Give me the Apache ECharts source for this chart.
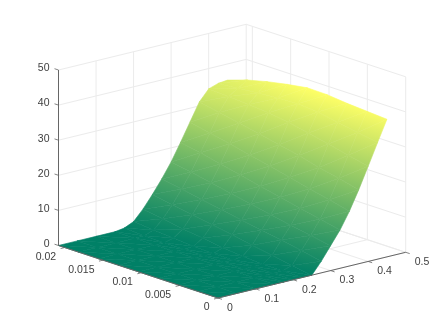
<!DOCTYPE html>
<html>
<head>
<meta charset="utf-8">
<style>
  html, body { margin: 0; padding: 0; background: #fff; }
  #chart { width: 448px; height: 336px; }
</style>
<script src="https://cdn.jsdelivr.net/npm/echarts@6/dist/echarts.min.js"></script>
</head>
<body>
<div id="chart"></div>
<script>
// surface samples
var xValues = [0, 0.05, 0.1, 0.15, 0.175, 0.2, 0.225, 0.25, 0.275, 0.3, 0.325, 0.35, 0.375, 0.4, 0.425, 0.45];
var yValues = [0, 0.0026, 0.0052, 0.0078, 0.0104, 0.013, 0.0156, 0.0182, 0.0208];
var zRow0 = [0, 0, 0, 0, 0, 0, 0, 0, 3.3, 7.1, 10.9, 15.6, 21.1, 27.1, 33.2, 39.2];
var zRow1 = [0, 0, 0, 0, 0, 0, 0, 0.9, 4.5, 8.1, 12.2, 17, 22.5, 28.4, 34.2, 39.6];
var zRow2 = [0, 0, 0, 0, 0, 0, 0, 1.9, 5.6, 9.2, 13.4, 18.3, 23.7, 29.7, 35.3, 40];
var zRow3 = [0, 0, 0, 0, 0, 0, 0.4, 2.9, 6.5, 10.3, 14.6, 19.7, 25.2, 31, 36.3, 40.6];
var zRow4 = [0, 0, 0, 0, 0, 0, 1, 4, 7.6, 11.5, 15.9, 21, 26.4, 32.2, 36.8, 40.7];
var zRow5 = [0, 0, 0, 0, 0, 0.2, 1.9, 5, 8.6, 12.6, 17.2, 22.3, 27.7, 33, 36.6, 39.8];
var zRow6 = [0, 0, 0, 0, 0, 0.7, 2.6, 6, 9.7, 13.8, 18.5, 23.6, 28.9, 33.5, 36.1, 38.7];
var zRow7 = [0, 0, 0, 0, 0.1, 1.1, 3.6, 7, 10.8, 15, 19.8, 24.8, 30, 33.9, 35.6, 37.3];
var zRow8 = [0, 0, 0, 0, 0.4, 1.6, 4.5, 8, 11.8, 16, 20.9, 26, 31.1, 34.2, 35.1, 35.4];
var zRows = [zRow0, zRow1, zRow2, zRow3, zRow4, zRow5, zRow6, zRow7, zRow8];

var xTicks = [0, 0.1, 0.2, 0.3, 0.4, 0.5];
var yTicks = [0, 0.005, 0.01, 0.015, 0.02];
var zTicks = [0, 10, 20, 30, 40, 50];

var xMax = 0.5, yMax = 0.0208, zMax = 50;
var colorMax = 40.8;

// oblique view, same as the matlab view: corner positions in page pixels
var origin = [218, 298];
var xSpan = [187.7, -45.7];
var ySpan = [-159.5, -52.5];
var zSpan = -175.5;

function project(x, y, z) {
  return [
    origin[0] + x / xMax * xSpan[0] + y / yMax * ySpan[0],
    origin[1] + x / xMax * xSpan[1] + y / yMax * ySpan[1] + z / zMax * zSpan
  ];
}

function summer(z) {
  var t = Math.min(z / colorMax, 1);
  return 'rgb(' + Math.round(255 * t) + ',' + Math.round(127.5 + 127.5 * t) + ',102)';
}

// a triangle filled with the exact linear colour ramp of its three corners
function triangle(api, a, b, c) {
  var pts = [a, b, c].map(function (p) { return api.coord(project(p[0], p[1], p[2])); });
  var d = (pts[1][0] - pts[0][0]) * (pts[2][1] - pts[0][1]) - (pts[2][0] - pts[0][0]) * (pts[1][1] - pts[0][1]);
  var gx = ((b[2] - a[2]) * (pts[2][1] - pts[0][1]) - (c[2] - a[2]) * (pts[1][1] - pts[0][1])) / d;
  var gy = ((c[2] - a[2]) * (pts[1][0] - pts[0][0]) - (b[2] - a[2]) * (pts[2][0] - pts[0][0])) / d;
  var len2 = gx * gx + gy * gy;
  var fill = summer(a[2]);
  if (len2 > 1e-9) {
    var low = [a, b, c].reduce(function (m, p) { return p[2] < m[2] ? p : m; });
    var high = [a, b, c].reduce(function (m, p) { return p[2] > m[2] ? p : m; });
    var start = api.coord(project(low[0], low[1], low[2]));
    var k = (high[2] - low[2]) / len2;
    fill = new echarts.graphic.LinearGradient(start[0], start[1], start[0] + gx * k, start[1] + gy * k, [
      { offset: 0, color: summer(low[2]) },
      { offset: 1, color: summer(high[2]) }
    ], true);
  }
  return {
    type: 'polygon',
    shape: { points: pts },
    style: { fill: fill, stroke: fill, lineWidth: 0.6 }
  };
}

function renderCell(params, api) {
  var i = api.value(0), j = api.value(1);
  var p00 = [xValues[i], yValues[j], zRows[j][i]];
  var p10 = [xValues[i + 1], yValues[j], zRows[j][i + 1]];
  var p01 = [xValues[i], yValues[j + 1], zRows[j + 1][i]];
  var p11 = [xValues[i + 1], yValues[j + 1], zRows[j + 1][i + 1]];
  // split along the diagonal that runs closest to the wave front
  return {
    type: 'group',
    children: [triangle(api, p00, p10, p01), triangle(api, p10, p11, p01)]
  };
}

function renderLine(params, api) {
  var a = api.coord(project(api.value(0), api.value(1), api.value(2)));
  var b = api.coord(project(api.value(3), api.value(4), api.value(5)));
  return {
    type: 'line',
    shape: { x1: a[0], y1: a[1], x2: b[0], y2: b[1] },
    style: { stroke: api.value(6) ? '#666666' : '#ebebeb', lineWidth: 1, fill: null }
  };
}

function renderTick(params, api) {
  var a = api.coord(project(api.value(0), api.value(1), api.value(2)));
  var d = [api.value(3), api.value(4)];
  return {
    type: 'line',
    shape: { x1: a[0], y1: a[1], x2: a[0] + d[0], y2: a[1] + d[1] },
    style: { stroke: '#666666', lineWidth: 0.8, fill: null }
  };
}

function renderLabel(params, api) {
  var a = api.coord(project(api.value(0), api.value(1), api.value(2)));
  return {
    type: 'text',
    x: a[0] + api.value(3),
    y: a[1] + api.value(4),
    style: {
      text: String(api.value(5)),
      fill: '#404040',
      font: '10.5px "Liberation Sans", Arial, sans-serif',
      textAlign: api.value(6) ? 'left' : 'right',
      textVerticalAlign: 'middle'
    }
  };
}

var cells = [];
for (var j = yValues.length - 2; j >= 0; j--) {
  for (var i = xValues.length - 2; i >= 0; i--) {
    cells.push([i, j]);
  }
}

var gridLines = [];
zTicks.forEach(function (z) {
  gridLines.push([0, yMax, z, xMax, yMax, z, 0]);
  gridLines.push([xMax, 0, z, xMax, yMax, z, 0]);
});
xTicks.forEach(function (x) {
  gridLines.push([x, 0, 0, x, yMax, 0, 0]);
  gridLines.push([x, yMax, 0, x, yMax, zMax, 0]);
});
yTicks.forEach(function (y) {
  gridLines.push([0, y, 0, xMax, y, 0, 0]);
  gridLines.push([xMax, y, 0, xMax, y, zMax, 0]);
});

var axisLines = [
  [0, 0, 0, xMax, 0, 0, 1],
  [0, 0, 0, 0, yMax, 0, 1],
  [0, yMax, 0, 0, yMax, zMax, 1]
];

var ticks = [], labels = [];
xTicks.forEach(function (x) {
  ticks.push([x, 0, 0, 4, 1.3]);
  labels.push([x, 0, 0, 9, 10, x, 1]);
});
yTicks.forEach(function (y) {
  ticks.push([0, y, 0, -4, 1]);
  labels.push([0, y, 0, -8.5, 9.5, y, 0]);
});
zTicks.forEach(function (z) {
  ticks.push([0, yMax, z, -4, -1.3]);
  labels.push([0, yMax, z, -9, -1.5, z, 0]);
});

var chart = echarts.init(document.getElementById('chart'), null, { renderer: 'canvas' });
chart.setOption({
  animation: false,
  backgroundColor: '#fff',
  grid: { left: 0, right: 0, top: 0, bottom: 0 },
  xAxis: { type: 'value', min: 0, max: 448, show: false },
  yAxis: { type: 'value', min: 0, max: 336, inverse: true, show: false },
  series: [
    { type: 'custom', renderItem: renderLine, data: gridLines, silent: true, clip: false, z: 1 },
    { type: 'custom', renderItem: renderCell, data: cells, silent: true, clip: false, z: 2 },
    { type: 'custom', renderItem: renderLine, data: axisLines, silent: true, clip: false, z: 3 },
    { type: 'custom', renderItem: renderTick, data: ticks, silent: true, clip: false, z: 3 },
    { type: 'custom', renderItem: renderLabel, data: labels, silent: true, clip: false, z: 4 }
  ]
});
</script>
</body>
</html>
